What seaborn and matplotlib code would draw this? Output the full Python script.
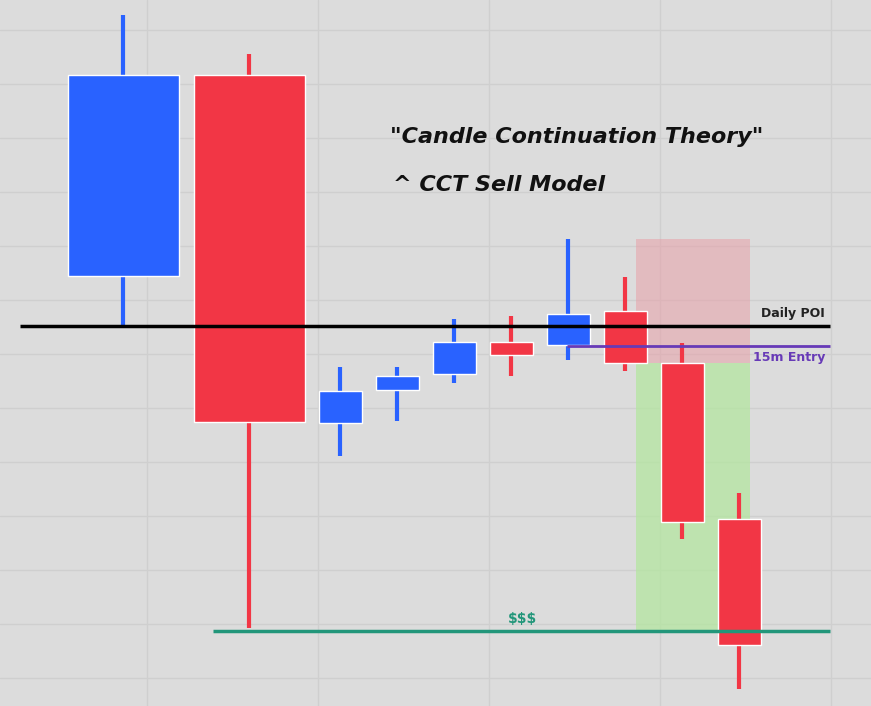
import matplotlib.pyplot as plt
import seaborn as sns

sns.set_style("whitegrid")

# price units = pixels from the bottom of the chart
x_pos = [123, 249, 340, 397, 454, 511, 568, 625, 682, 739]
widths = [111, 111, 43, 43, 43, 43, 43, 43, 43, 43]
opens = [430, 631, 283, 316, 332, 364, 361, 395, 343, 187]
closes = [631, 284, 315, 330, 364, 351, 392, 343, 184, 61]
highs = [691, 652, 339, 339, 387, 390, 467, 429, 363, 213]
lows = [380, 78, 250, 285, 323, 330, 346, 335, 167, 17]

blue = "#2962ff"
red = "#f23645"

fig = plt.figure(figsize=(8.71, 7.06), dpi=100)
ax = fig.add_axes([0, 0, 1, 1])
ax.set_facecolor("#dcdcdc")
fig.patch.set_facecolor("#dcdcdc")

# zones
ax.add_patch(plt.Rectangle((636, 343), 114, 124, color="#e8a0a8", alpha=0.55, lw=0))
ax.add_patch(plt.Rectangle((636, 75), 114, 268, color="#b4e6a0", alpha=0.75, lw=0))

for x, w, o, c, h, l in zip(x_pos, widths, opens, closes, highs, lows):
    col = blue if c > o else red
    ax.vlines(x, l, h, color=col, lw=3, zorder=2)
    ax.bar(x, abs(c - o), bottom=min(o, c), width=w, color=col, zorder=3)

ax.hlines(380, 20, 830, color="black", lw=2.5, zorder=4)
ax.hlines(360, 567, 830, color="#673ab7", lw=2, zorder=4)
ax.hlines(75, 213, 830, color="#22967a", lw=2.5, zorder=4)

ax.text(825, 393, "Daily POI", ha="right", va="center", fontsize=9, fontweight="bold", color="#222222")
ax.text(825, 349, "15m Entry", ha="right", va="center", fontsize=9, fontweight="bold", color="#673ab7")
ax.text(522, 87, "$$$", ha="center", va="center", fontsize=10, fontweight="bold", color="#22967a")
ax.text(390, 569, '"Candle Continuation Theory"', fontsize=16, fontstyle="italic",
        fontweight="bold", va="center", color="#111111")
ax.text(393, 521, "^ CCT Sell Model", fontsize=16, fontstyle="italic",
        fontweight="bold", va="center", color="#111111")

ax.set_xlim(0, 871)
ax.set_ylim(0, 706)
ax.set_xticks([147, 318, 489, 660, 831])
ax.set_yticks(range(28, 706, 54))
ax.grid(True, color="#cfcfcf", lw=1)
ax.tick_params(length=0, labelleft=False, labelbottom=False)
for s in ax.spines.values():
    s.set_visible(False)

fig.savefig("out.png", dpi=100, facecolor=fig.get_facecolor())
